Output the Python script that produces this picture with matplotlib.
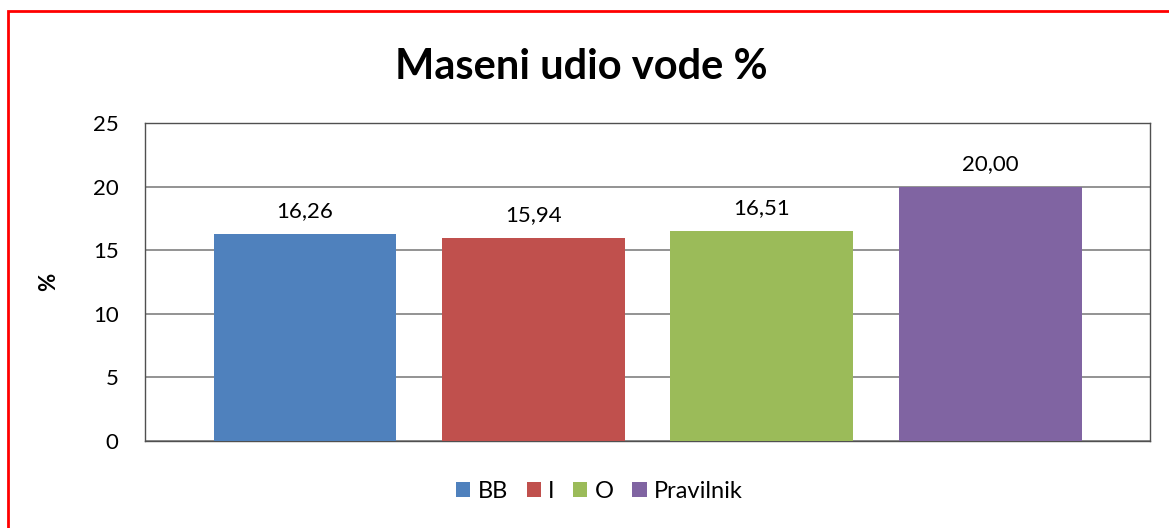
import numpy as np
import matplotlib.pyplot as plt
from matplotlib.patches import Rectangle

plt.rcParams['font.family'] = ['Lato', 'DejaVu Sans']

series = ['BB', 'I', 'O', 'Pravilnik']
values = [16.26, 15.94, 16.51, 20.00]
colors = ['#4F81BD', '#C0504D', '#9BBB59', '#8064A2']
yticks = [0, 5, 10, 15, 20, 25]

fig = plt.figure(figsize=(11.69, 5.28), dpi=100)
fig.patch.set_facecolor('white')
# red frame, its right and bottom edges fall outside the picture
fig.patches.append(Rectangle((7.5 / 1169, -0.02), 1.05, 1 - 11.5 / 528 + 0.02,
                             transform=fig.transFigure, fill=False,
                             edgecolor='#FF0000', linewidth=2))

ax = fig.add_axes([0.124, 0.165, 0.86, 0.602])
x = np.arange(len(series))
ax.bar(x, values, width=0.8, color=colors, label=series, zorder=3)
for xi, v in zip(x, values):
    ax.text(xi, v + 1.0, '{:.2f}'.format(v).replace('.', ','),
            ha='center', va='bottom', fontsize=16)

ax.set_xlim(-0.7, 3.7)
ax.set_ylim(0, 25)
ax.set_yticks(yticks)
ax.set_xticks([])
ax.tick_params(axis='y', length=0, labelsize=16, pad=19)
ax.grid(axis='y', color='#808080', linewidth=1.2, zorder=0)
for s in ax.spines.values():
    s.set_color('#505050')
    s.set_linestyle((0, (2, 1)))
    s.set_linewidth(1.0)
ax.set_ylabel('%', fontsize=16, fontweight='bold', labelpad=24)

fig.suptitle('Maseni udio vode %', fontsize=30, fontweight='bold', x=0.497, y=0.91)

ax.legend(loc='upper center', bbox_to_anchor=(0.452, -0.06), ncol=4, frameon=False,
          fontsize=17, handlelength=0.6, handleheight=0.6, handletextpad=0.3,
          columnspacing=0.8)

fig.savefig('out.png', dpi=100)
